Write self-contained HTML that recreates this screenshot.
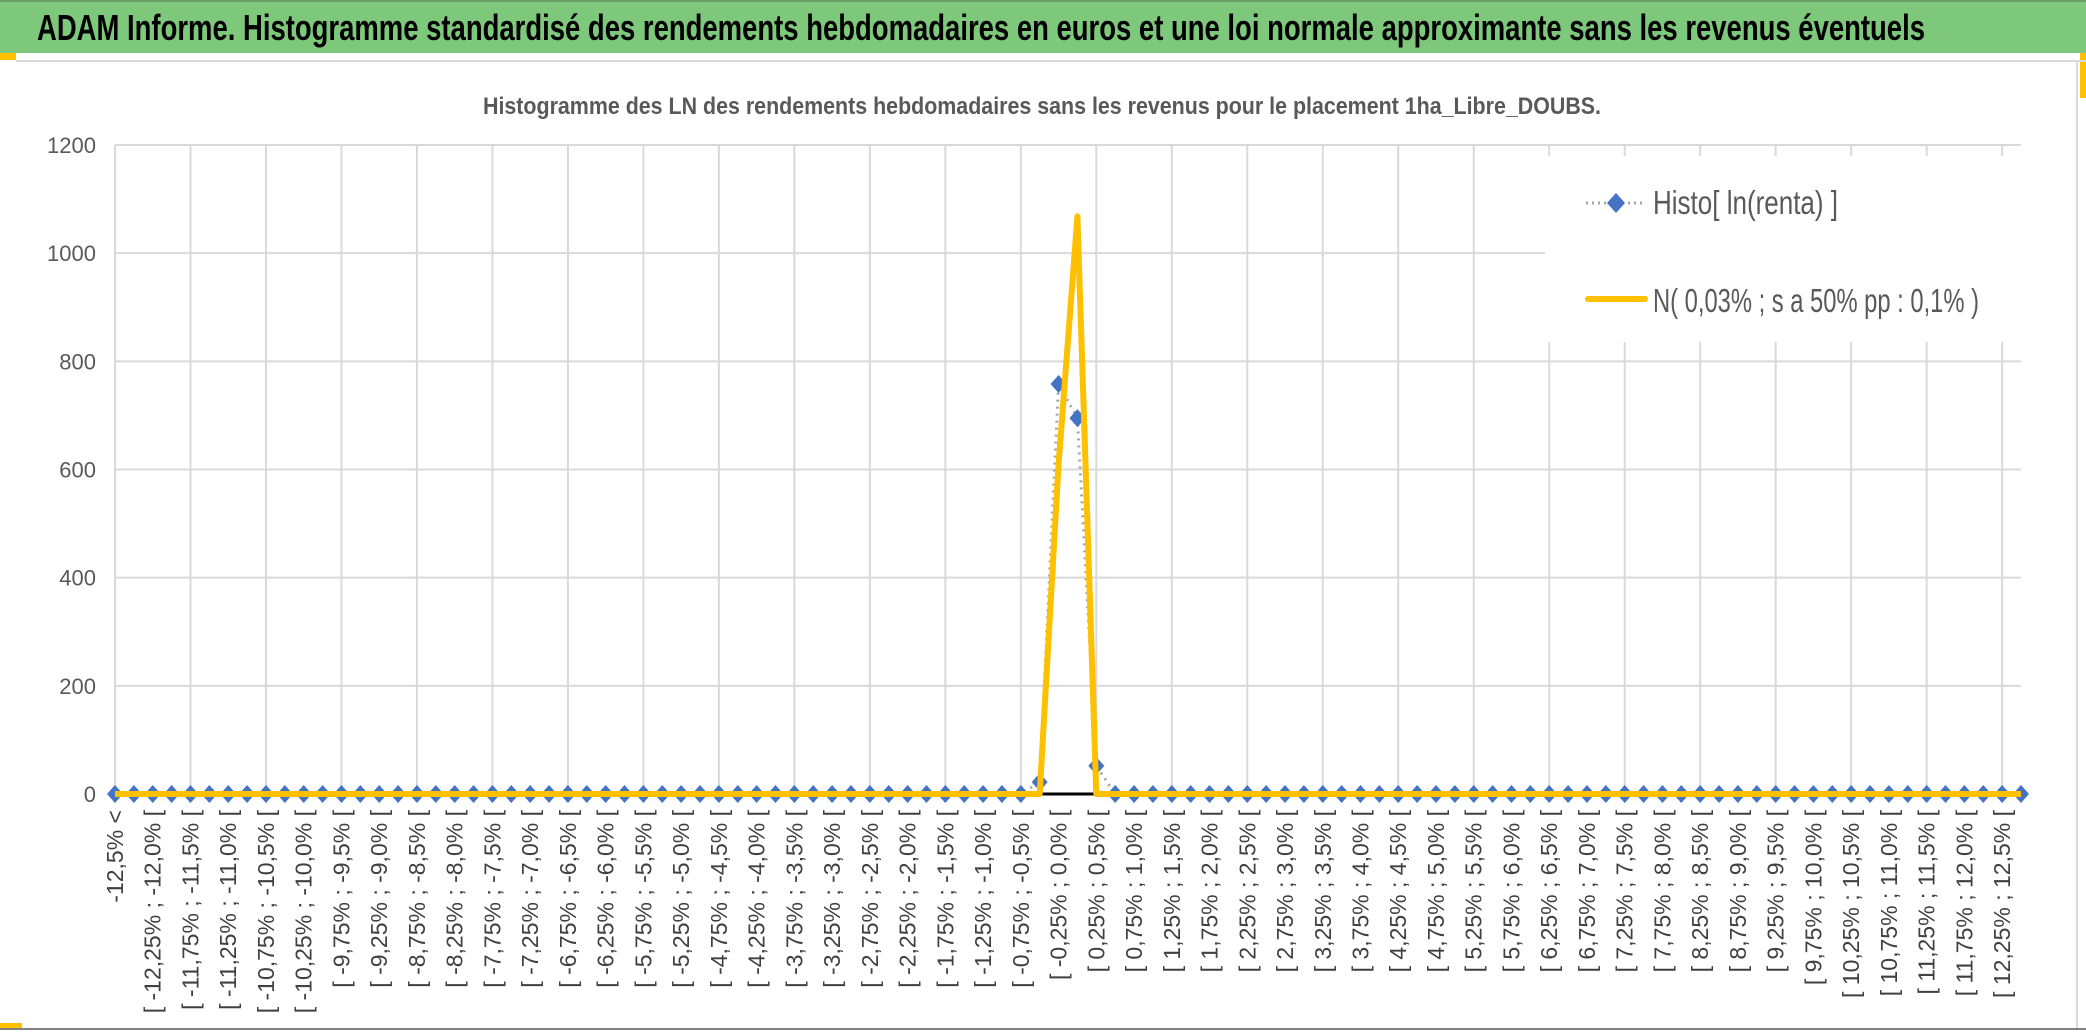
<!DOCTYPE html>
<html><head><meta charset="utf-8"><style>
html,body{margin:0;padding:0;background:#fff}
svg{display:block}
text{font-family:"Liberation Sans Narrow","Liberation Sans",sans-serif}
</style></head><body>
<svg id="chart" width="2086" height="1032" viewBox="0 0 2086 1032">
  <rect x="0" y="0" width="2086" height="53" fill="#7dc87b"/>
  <line x1="0" y1="1" x2="2086" y2="1" stroke="#6a9e68" stroke-width="2"/>
  <text x="37" y="40" font-size="36" font-weight="bold" fill="#000" textLength="1888" lengthAdjust="spacingAndGlyphs">ADAM Informe. Histogramme standardisé des rendements hebdomadaires en euros et une loi normale approximante sans les revenus éventuels</text>
  <rect x="0" y="53" width="16" height="7" fill="#ffc000"/>
  <rect x="2080" y="53" width="6" height="45" fill="#ffc000"/>
  <rect x="0" y="1023" width="22" height="7" fill="#ffc000"/>
  <line x1="16" y1="61" x2="2086" y2="61" stroke="#d9d9d9" stroke-width="2"/>
  <line x1="2077" y1="61" x2="2077" y2="1028" stroke="#d9d9d9" stroke-width="2"/>
  <line x1="0" y1="1029" x2="2086" y2="1029" stroke="#7f7f7f" stroke-width="2"/>
  <text x="1042" y="114" font-size="24" font-weight="bold" fill="#595959" text-anchor="middle" textLength="1118" lengthAdjust="spacingAndGlyphs">Histogramme des LN des rendements hebdomadaires sans les revenus pour le placement 1ha_Libre_DOUBS.</text>
  <g id="grid"></g>
  <g id="yaxis"></g>
  <g id="xaxis"></g>
  <g id="series"></g>
  <g id="legend">
    <rect x="1545" y="156" width="476" height="186" fill="#fff"/>
    <line x1="1586" y1="203" x2="1644" y2="203" stroke="#a5a5a5" stroke-width="3" stroke-dasharray="2,4"/>
    <path d="M1616 193 L1625 203 L1616 213 L1607 203 Z" fill="#4472c4"/>
    <text x="1653" y="214" font-size="33" fill="#595959" textLength="185" lengthAdjust="spacingAndGlyphs">Histo[ ln(renta) ]</text>
    <line x1="1588" y1="299" x2="1645" y2="299" stroke="#ffc000" stroke-width="6" stroke-linecap="round"/>
    <text x="1653" y="312" font-size="33" fill="#595959" textLength="326" lengthAdjust="spacingAndGlyphs">N( 0,03% ; s a 50% pp : 0,1% )</text>
  </g>
</svg>
<script>
const yTicks = [0, 200, 400, 600, 800, 1000, 1200];
const histIdx = [49, 50, 51, 52];
const histVals = [22, 758, 695, 52];
const normIdx = [49, 50, 51, 52];
const normVals = [0, 610, 1068, 0];
const nCats = 102;

const NS = "http://www.w3.org/2000/svg";
const L = 115, R = 2021, T = 145, B = 794;
function fmt(v){
  const q = Math.round(Math.abs(v)*100);
  const dec = (q % 50 === 0) ? 1 : 2;
  return (v<0?"-":"") + Math.abs(v).toFixed(dec).replace(".", ",") + "%";
}
const categories = [];
categories.push("-12,5% <");
for (let i = 0; i < 100; i++) {
  const a = -12.5 + i*0.25, b = a + 0.25;
  categories.push("[ " + fmt(a) + " ; " + fmt(b) + " [");
}
categories.push("> 12,5%");
const histData = new Array(nCats).fill(0);
histIdx.forEach((k,i)=>{ histData[k] = histVals[i]; });
const normData = new Array(nCats).fill(0);
normIdx.forEach((k,i)=>{ normData[k] = normVals[i]; });

function xs(i){ return L + (R - L) * i / (nCats - 1); }
function ys(v){ return B - (B - T) * v / 1200; }
function mk(tag, attrs, parent){ const e = document.createElementNS(NS, tag); for (const k in attrs) e.setAttribute(k, attrs[k]); parent.appendChild(e); return e; }

const grid = document.getElementById("grid");
yTicks.forEach(t => {
  const ln = mk("line", {x1:L, x2:R, y1:ys(t), y2:ys(t), stroke:"#d9d9d9", "stroke-width":2}, grid);
  
  
});
for (let i = 0; i < nCats; i += 4) {
  const ln = mk("line", {x1:xs(i), x2:xs(i), y1:T, y2:B, stroke:"#d9d9d9", "stroke-width":2}, grid);
  
  
}
const yax = document.getElementById("yaxis");
yTicks.forEach(t => {
  const tx = mk("text", {x:96, y:ys(t)+8, "font-size":22, fill:"#595959", "text-anchor":"end"}, yax);
  tx.textContent = t;
  
  
});
const xax = document.getElementById("xaxis");
const axisLine = mk("line", {x1:L, x2:R, y1:B, y2:B, stroke:"#000", "stroke-width":3}, xax);


for (let i = 0; i < nCats; i += 2) {
  const x = xs(i) + 8, y = 810;
  const tx = mk("text", {x:x, y:y, "font-size":23, fill:"#404040", "text-anchor":"end", transform:`rotate(-90 ${x} ${y})`}, xax);
  tx.setAttribute("font-family", '"Liberation Sans", sans-serif');
  tx.textContent = categories[i];
  
  
}
const ser = document.getElementById("series");
const hp = histData.map((v,i)=>xs(i).toFixed(1)+","+ys(v).toFixed(1)).join(" ");
const hl = mk("polyline", {points:hp, fill:"none", stroke:"#a5a5a5", "stroke-width":3, "stroke-dasharray":"2,5"}, ser);


histData.forEach((v,i)=>{
  const x = xs(i), y = ys(v);
  const d = mk("path", {d:`M${x} ${y-9} L${x+8} ${y} L${x} ${y+9} L${x-8} ${y} Z`, fill:"#4472c4"}, ser);
  
  
});
const np = normData.map((v,i)=>xs(i).toFixed(1)+","+ys(v).toFixed(1)).join(" ");
const nl = mk("polyline", {points:np, fill:"none", stroke:"#ffc000", "stroke-width":6, "stroke-linejoin":"round"}, ser);


</script>
</body></html>
